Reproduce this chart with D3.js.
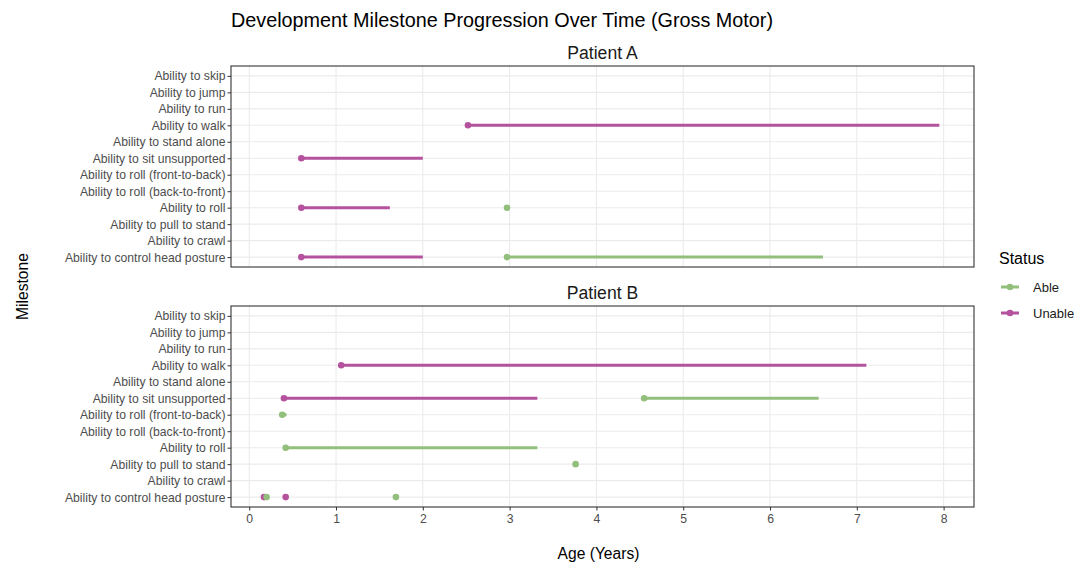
<!DOCTYPE html>
<html>
<head>
<meta charset="utf-8">
<script src="https://cdn.jsdelivr.net/npm/d3@7"></script>
<style>
  body { margin: 0; background: #fff; font-family: "Liberation Sans", Arial, sans-serif; }
  .tick text { fill: #4d4d4d; font-size: 12.2px; font-family: "Liberation Sans", Arial, sans-serif; }
  .tick line { stroke: #333; }
</style>
</head>
<body>
<script>
// milestones, top to bottom
const milestones = [
  'Ability to skip', 'Ability to jump', 'Ability to run', 'Ability to walk',
  'Ability to stand alone', 'Ability to sit unsupported', 'Ability to roll (front-to-back)',
  'Ability to roll (back-to-front)', 'Ability to roll', 'Ability to pull to stand',
  'Ability to crawl', 'Ability to control head posture'
];
const patients = ['Patient A', 'Patient B'];
const statuses = ['Able', 'Unable'];
const xTicks = [0, 1, 2, 3, 4, 5, 6, 7, 8];

// one entry per segment (start point + line to end)
const segPatient   = ['Patient A', 'Patient A', 'Patient A', 'Patient A', 'Patient A', 'Patient A',
                      'Patient B', 'Patient B', 'Patient B', 'Patient B', 'Patient B', 'Patient B',
                      'Patient B', 'Patient B', 'Patient B', 'Patient B'];
const segMilestone = ['Ability to walk', 'Ability to sit unsupported', 'Ability to roll', 'Ability to roll',
                      'Ability to control head posture', 'Ability to control head posture',
                      'Ability to walk', 'Ability to sit unsupported', 'Ability to sit unsupported',
                      'Ability to roll (front-to-back)', 'Ability to roll', 'Ability to pull to stand',
                      'Ability to control head posture', 'Ability to control head posture',
                      'Ability to control head posture', 'Ability to control head posture'];
const segStatus    = ['Unable', 'Unable', 'Unable', 'Able', 'Unable', 'Able',
                      'Unable', 'Unable', 'Able', 'Able', 'Able', 'Able',
                      'Unable', 'Able', 'Unable', 'Able'];
const segStart     = [2.52, 0.60, 0.60, 2.97, 0.60, 2.97,
                      1.06, 0.40, 4.55, 0.38, 0.42, 3.76,
                      0.17, 0.20, 0.42, 1.69];
const segEnd       = [7.95, 2.00, 1.62, 2.97, 2.00, 6.61,
                      7.11, 3.32, 6.56, 0.43, 3.32, 3.76,
                      0.17, 0.20, 0.42, 1.69];

const segments = segStart.map((s, i) => ({
  patient: segPatient[i], milestone: segMilestone[i], status: segStatus[i], start: s, end: segEnd[i]
}));

const width = 1074, height = 566;
const left = 231, right = 974;
const panels = [{top: 66, bottom: 267}, {top: 306, bottom: 507}];

const color = d3.scaleOrdinal().domain(statuses).range(['#92c07c', '#b5529e']);

const svg = d3.select('body').append('svg')
  .attr('width', width)
  .attr('height', height);

const x = d3.scaleLinear()
  .domain([-0.21, 8.35])
  .range([left, right]);

/* title */
svg.append('text')
  .attr('x', left)
  .attr('y', 26.5)
  .attr('font-size', 19.8)
  .attr('fill', '#000')
  .text('Development Milestone Progression Over Time (Gross Motor)');

patients.forEach((p, pi) => {
  const {top, bottom} = panels[pi];
  const y = d3.scalePoint()
    .domain(milestones)
    .range([top, bottom])
    .padding(0.6);

  const g = svg.append('g');

  // strip label
  svg.append('text')
    .attr('x', (left + right) / 2)
    .attr('y', top - 7)
    .attr('text-anchor', 'middle')
    .attr('font-size', 17.6)
    .attr('fill', '#1a1a1a')
    .text(p);

  // grid
  g.selectAll('.vgrid').data(xTicks).enter().append('line')
    .attr('x1', d => x(d)).attr('x2', d => x(d))
    .attr('y1', top).attr('y2', bottom)
    .attr('stroke', '#ebebeb').attr('stroke-width', 1.1);
  g.selectAll('.hgrid').data(milestones).enter().append('line')
    .attr('x1', left).attr('x2', right)
    .attr('y1', d => y(d)).attr('y2', d => y(d))
    .attr('stroke', '#ebebeb').attr('stroke-width', 1.1);

  const data = segments.filter(s => s.patient === p);

  g.selectAll('.seg').data(data.filter(d => d.end > d.start)).enter().append('line')
    .attr('x1', d => x(d.start)).attr('x2', d => x(d.end))
    .attr('y1', d => y(d.milestone)).attr('y2', d => y(d.milestone))
    .attr('stroke', d => color(d.status))
    .attr('stroke-width', 3);

  g.selectAll('.pt').data(data).enter().append('circle')
    .attr('cx', d => x(d.start))
    .attr('cy', d => y(d.milestone))
    .attr('r', 3.3)
    .attr('fill', d => color(d.status));

  // border
  g.append('rect')
    .attr('x', left).attr('y', top)
    .attr('width', right - left).attr('height', bottom - top)
    .attr('fill', 'none').attr('stroke', '#333').attr('stroke-width', 1.1);

  // y axis
  const yAxis = d3.axisLeft(y).tickSize(3.5).tickPadding(2);
  svg.append('g')
    .attr('transform', `translate(${left},0)`)
    .call(yAxis)
    .call(a => a.select('.domain').remove());

  if (pi === 1) {
    const xAxis = d3.axisBottom(x).tickValues(xTicks).tickSize(3.5).tickPadding(4);
    svg.append('g')
      .attr('transform', `translate(0,${bottom})`)
      .call(xAxis)
      .call(a => a.select('.domain').remove());
  }
});

/* axis titles */
svg.append('text')
  .attr('x', (left + right) / 2 - 4)
  .attr('y', 559)
  .attr('text-anchor', 'middle')
  .attr('font-size', 15.6)
  .text('Age (Years)');

svg.append('text')
  .attr('transform', `translate(28,${(panels[0].top + panels[1].bottom) / 2}) rotate(-90)`)
  .attr('text-anchor', 'middle')
  .attr('font-size', 15.6)
  .text('Milestone');

/* legend */
const legend = svg.append('g').attr('transform', 'translate(999,0)');
legend.append('text')
  .attr('x', 0).attr('y', 264)
  .attr('font-size', 16)
  .text('Status');
statuses.forEach((s, i) => {
  const ly = 287 + i * 26;
  legend.append('line')
    .attr('x1', 2).attr('x2', 20)
    .attr('y1', ly).attr('y2', ly)
    .attr('stroke', color(s)).attr('stroke-width', 3);
  legend.append('circle')
    .attr('cx', 11).attr('cy', ly).attr('r', 3.3)
    .attr('fill', color(s));
  legend.append('text')
    .attr('x', 34).attr('y', ly + 4.5)
    .attr('font-size', 13)
    .attr('fill', '#1a1a1a')
    .text(s);
});
</script>
</body>
</html>
